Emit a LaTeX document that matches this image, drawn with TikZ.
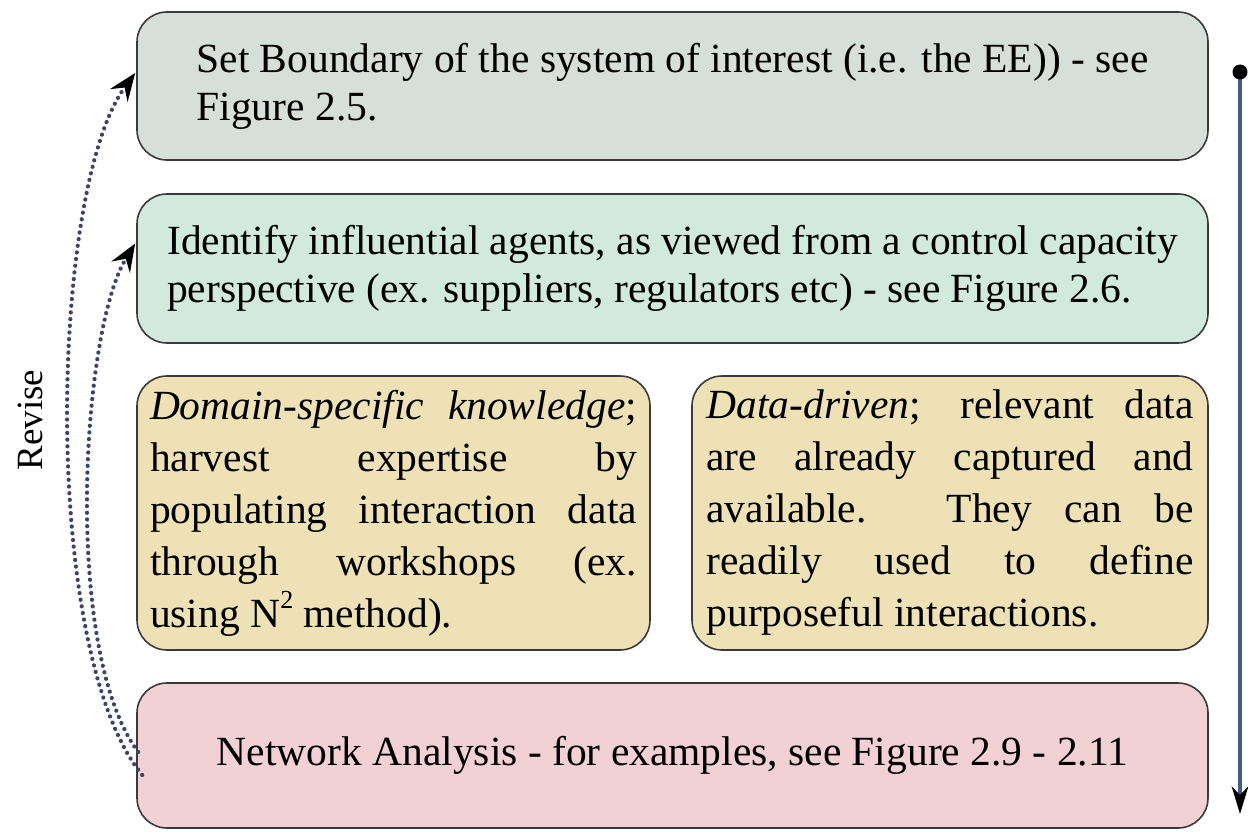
\documentclass[tikz,border=0pt]{standalone}
\usepackage{fontspec}
\setmainfont{Liberation Serif}
\usetikzlibrary{arrows.meta,calc}

\definecolor{bndfill}{HTML}{D6DFDA}
\definecolor{agtfill}{HTML}{D2EADD}
\definecolor{srcfill}{HTML}{EDE1B5}
\definecolor{netfill}{HTML}{F2D1D4}
\definecolor{edgegray}{HTML}{3A3A3A}
\definecolor{flowblue}{HTML}{4A5884}
\definecolor{dotblue}{HTML}{3A4668}

\newcommand{\sqsup}{\raisebox{0.45em}{\fontsize{26}{26}\selectfont 2}}
\newcommand{\nohyph}{\hyphenpenalty=10000 \exhyphenpenalty=10000 \hbadness=10000 \hfuzz=20pt }

\tikzset{
  stagebox/.style={draw=edgegray, line width=1.6pt, rounded corners=30pt,
    inner sep=0pt, font=\fontsize{41.5}{48}\selectfont},
  widebox/.style={stagebox, minimum width=1071pt},
  halfbox/.style={stagebox, minimum height=274pt, text width=487pt, align=justify,
    font=\fontsize{41.5}{52}\selectfont},
  revise/.style={draw=dotblue, line width=4.2pt, line cap=round, dash pattern=on 0.1pt off 6.6pt,
    -{Stealth[black,length=28pt,width=22pt,inset=10pt,line cap=butt,line width=0pt]}},
  flow/.style={draw=flowblue, line width=3.2pt,
    -{Stealth[black,length=28pt,width=17pt,inset=9pt,line width=0pt]}}
}

\begin{document}
\begin{tikzpicture}[x=1pt,y=-1pt]
  \useasboundingbox (0,0) rectangle (1248,832);

  % stages of the procedure
  \node[widebox, fill=bndfill, minimum height=148pt, align=left] (bnd) at (672.5,86)
    {Set Boundary of the system of interest (i.e. the EE)) - see\\Figure 2.5.};
  \node[widebox, fill=agtfill, minimum height=149pt, align=left] (agt) at (672.5,268.5)
    {Identify influential agents, as viewed from a control capacity\\perspective (ex. suppliers, regulators etc) - see Figure 2.6.};
  \node[halfbox, fill=srcfill, minimum width=513pt] (dom) at (393.5,513)
    {\nohyph\textit{Domain-specific knowledge}; \linebreak harvest expertise by \linebreak populating interaction data \linebreak through workshops (ex. \linebreak using N\sqsup{} method).};
  \node[halfbox, fill=srcfill, minimum width=516pt] (dat) at (950,513)
    {\nohyph\textit{Data-driven}; relevant data \linebreak are already captured and \linebreak available. They can be \linebreak readily used to define \linebreak purposeful interactions.};
  \node[widebox, fill=netfill, minimum height=145pt] (net) at (672.5,755.5)
    {Network Analysis - for examples, see Figure 2.9 - 2.11};

  % revision loops back to the first two stages
  \coordinate (r1s) at ($(net.west)+(6,19.5)$);
  \coordinate (r2s) at ($(net.west)+(2,-3.5)$);
  \coordinate (r1e) at ($(bnd.west)+(-1,-13)$);
  \coordinate (r2e) at ($(agt.west)+(-1,-25)$);
  \draw[revise] (r1s) .. controls (40,650) and (50,190) .. (r1e);
  \draw[revise] (r2s) .. controls (62,650) and (82,330) .. (r2e);
  \node[rotate=90, font=\fontsize{37}{43}\selectfont] (rev) at (30,420) {Revise};

  % order of the procedure
  \coordinate (fs) at (1240,72);
  \coordinate (fe) at (1240,814);
  \draw[flow] (fs) -- (fe);
  \fill[black] (fs) circle (7.5pt);
\end{tikzpicture}
\end{document}
